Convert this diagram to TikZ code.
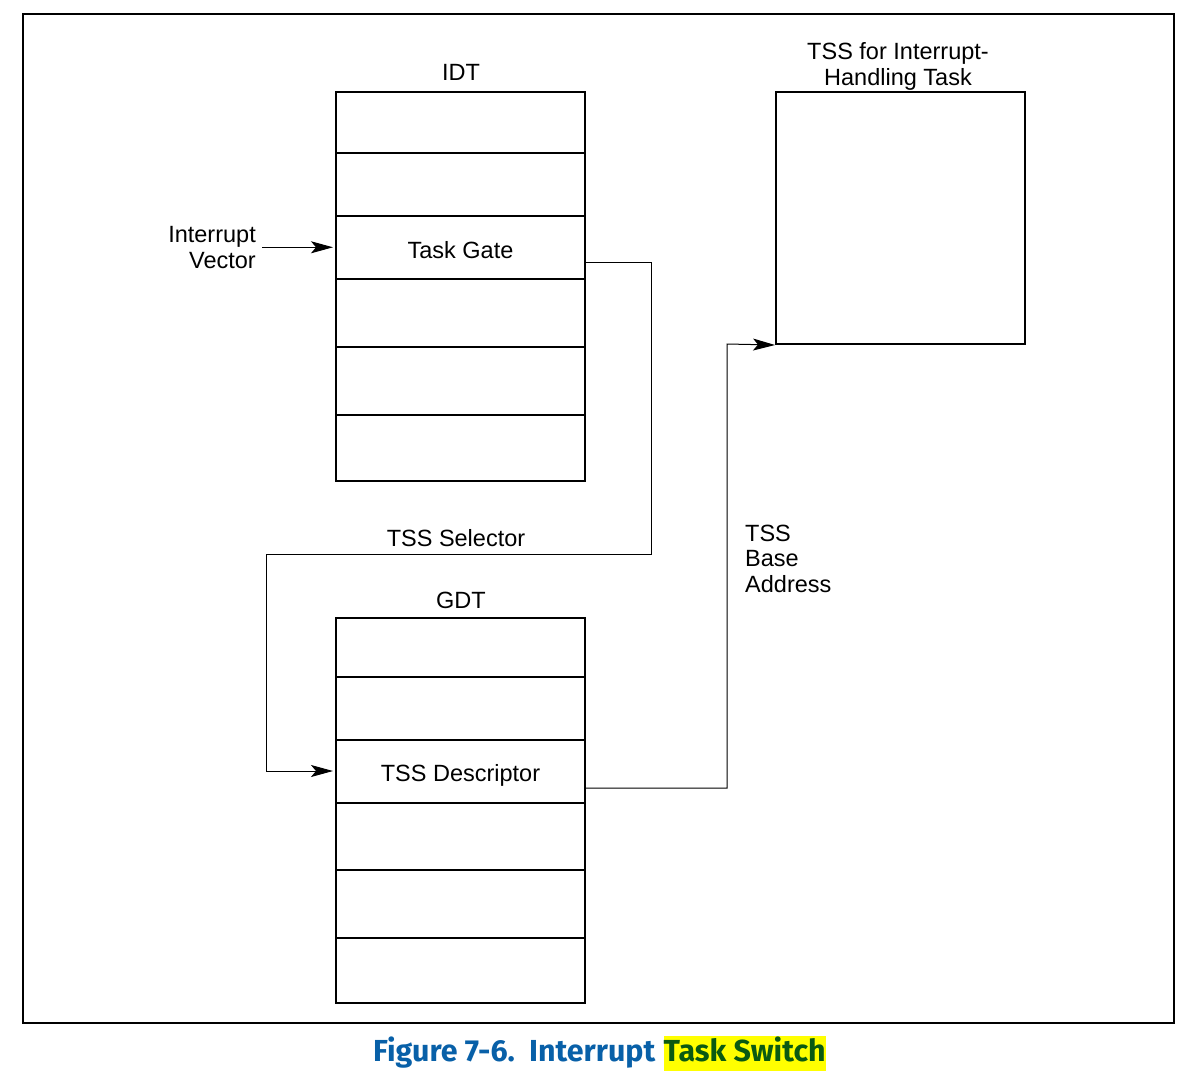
\documentclass[tikz,border=0pt]{standalone}
\usepackage{fontspec}
\setmainfont{Liberation Sans}
\newfontfamily\capfont{Fira Sans}
\usetikzlibrary{arrows.meta,fit,calc}
\definecolor{capblue}{HTML}{0860A8}
\definecolor{capgreen}{HTML}{0A5A12}
\definecolor{hlyellow}{HTML}{FFFF00}
\begin{document}
\begin{tikzpicture}[x=1pt,y=-1pt,
  rowbox/.style={draw, line width=2pt, inner sep=0pt},
  lbl/.style={inner sep=0pt, font=\fontsize{23.5}{25.5}\selectfont},
  conn/.style={line width=1pt},
  arr/.style={conn, -{Stealth[length=22pt,width=12pt,inset=5pt]}},
]
\useasboundingbox (0,0) rectangle (1194,1082);
% outer frame
\node[draw, line width=2.2pt, inner sep=0pt, fit={(23,14)(1174,1023)}] (frame) {};

% IDT
\node[rowbox, fit={(336,92)(585,153)}] (i1) {};
\node[rowbox, fit={(336,153)(585,216)}] (i2) {};
\node[rowbox, fit={(336,216)(585,279)}] (tg) {};
\node[rowbox, fit={(336,279)(585,347)}] (i4) {};
\node[rowbox, fit={(336,347)(585,415)}] (i5) {};
\node[rowbox, fit={(336,415)(585,481)}] (i6) {};
\node[lbl] (tgl) at ([yshift=-2.5pt]tg.center) {Task Gate};
\node[lbl, anchor=base] (idt) at (461,80) {IDT};

% GDT
\node[rowbox, fit={(336,618)(585,677)}] (g1) {};
\node[rowbox, fit={(336,677)(585,740)}] (g2) {};
\node[rowbox, fit={(336,740)(585,803)}] (td) {};
\node[rowbox, fit={(336,803)(585,870)}] (g4) {};
\node[rowbox, fit={(336,870)(585,938)}] (g5) {};
\node[rowbox, fit={(336,938)(585,1003)}] (g6) {};
\node[lbl] (tdl) at ([yshift=-3.5pt]td.center) {TSS Descriptor};
\node[lbl, anchor=base] (gdt) at (461,608) {GDT};

% TSS
\node[rowbox, fit={(776,92)(1025,344)}] (tss) {};
\node[lbl, anchor=base, align=center] (tssl) at (898,85) {TSS for Interrupt-\\Handling Task};

% labels
\node[lbl, anchor=base east, align=right] (iv) at (256,268) {Interrupt\\Vector};
\node[lbl, anchor=base] (sel) at (456,546) {TSS Selector};
\node[lbl, anchor=base west, align=left] (tba) at (745,592) {TSS\\Base\\Address};

% connectors
\draw[arr, shorten >=2pt] ([xshift=6pt]iv.east) coordinate (ivs) -- (ivs -| tg.west);
\draw[arr, shorten >=2pt] ([yshift=-14.5pt]tg.east) -- (651,262) -- (651,554) -- (266,554) -- (266,771) -- ([yshift=0.5pt]td.west);
\draw[arr] ([yshift=-16.5pt]td.east) -- (727,788) -- (727,344) -- (tss.south west);

% caption
\node[inner sep=0pt, anchor=base west, text=capblue, font=\capfont\bfseries\fontsize{30.4}{33}\selectfont] (cap1) at (373,1061) {Figure 7-6.\ \ Interrupt\strut};
\node[inner sep=0pt, anchor=base west, fill=hlyellow, text=capgreen, font=\capfont\bfseries\fontsize{30.4}{33}\selectfont] (cap2) at ([xshift=8pt]cap1.base east) {Task Switch\strut};
\end{tikzpicture}
\end{document}
